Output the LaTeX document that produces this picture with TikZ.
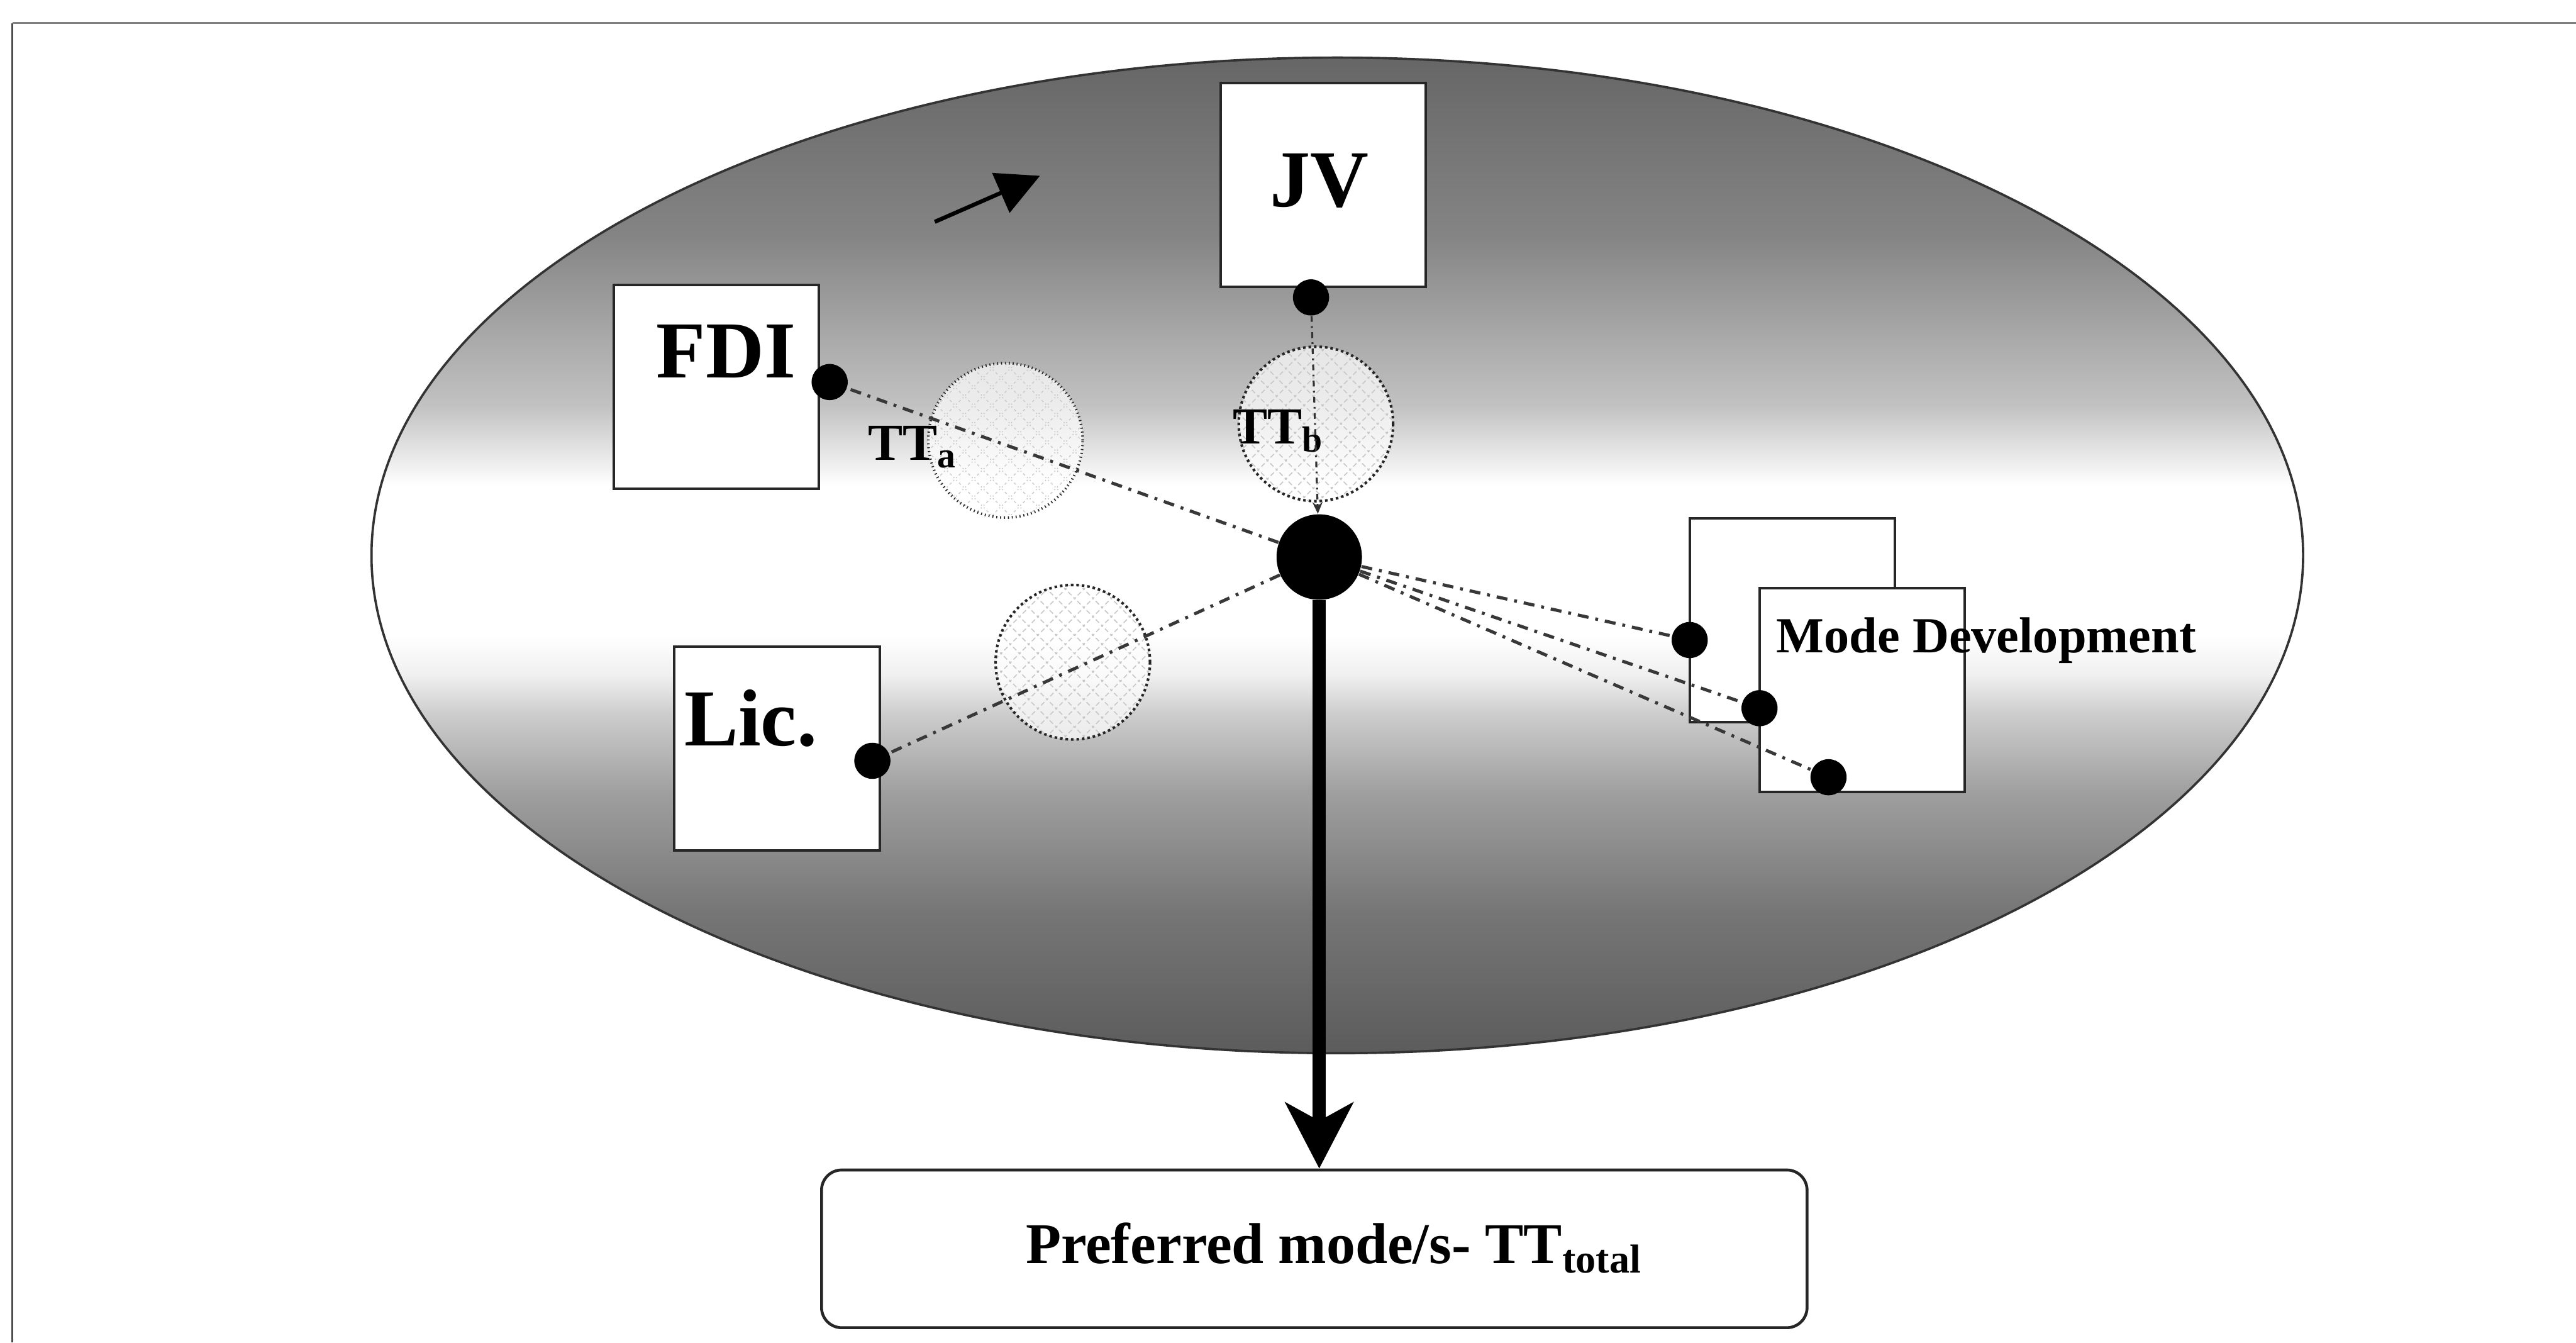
\documentclass[tikz,border=0pt]{standalone}
\usepackage{fontspec}
\setmainfont{Liberation Serif}
\usetikzlibrary{arrows.meta,patterns.meta}

% grey band shading of the oval (0bp = bottom)
\pgfdeclareverticalshading{ovalshade}{100bp}{%
  color(0bp)=(black!64); color(25bp)=(black!64); color(32bp)=(black!54);
  color(38bp)=(black!38); color(42bp)=(black!20); color(44bp)=(black!6);
  color(46bp)=(white); color(53.5bp)=(white); color(57.5bp)=(black!24);
  color(66bp)=(black!48); color(75bp)=(black!60); color(100bp)=(black!60)}

\begin{document}
\begin{tikzpicture}[x=.02cm,y=-.02cm,
  lbox/.style={draw=black!85,line width=.9pt,fill=white,inner sep=0,
    minimum width=2.5cm,minimum height=2.48cm},
  biglab/.style={font=\fontsize{28}{30}\selectfont\bfseries,inner sep=0,anchor=base},
  ttlab/.style={font=\fontsize{18}{20}\selectfont\bfseries,inner sep=0,anchor=base west},
  mdlab/.style={font=\fontsize{17.5}{20}\selectfont\bfseries,inner sep=0,anchor=base west},
  ttring/.style={circle,draw=black!85,densely dotted,line width=.9pt,inner sep=0,
    minimum size=1.88cm,preaction={fill=white,fill opacity=.7},
    pattern={Hatch[angle=45,distance=4.5pt,line width=.35pt]},pattern color=black!22},
  dot/.style={circle,fill=black,inner sep=0,minimum size=.44cm},
  hub/.style={circle,fill=black,inner sep=0,minimum size=1.04cm},
  link/.style={black!78,line width=1.1pt,dash pattern=on 3.8pt off 2.4pt on 1pt off 2.4pt},
  jvlink/.style={black!80,line width=.7pt,dash pattern=on 2pt off 1.5pt on .6pt off 1.5pt,
    -{Stealth[length=4pt,width=3.5pt]}},
  prefbox/.style={draw=black!85,line width=1pt,rounded corners=7pt,fill=white,
    minimum width=12cm,minimum height=1.92cm},
  preflab/.style={font=\fontsize{20}{22}\selectfont\bfseries,inner sep=0,anchor=base}]
  \useasboundingbox (0,0) rectangle (1568,817);

  % frame
  \draw[black!70,line width=.7pt] (7.5,817) -- (7.5,14);
  \draw[black!50,line width=.7pt] (7.5,14) -- (1568,14);

  % oval
  \shade[shading=ovalshade,draw=black!80,line width=.8pt]
    (814,338) ellipse [x radius=11.76cm,y radius=6.06cm];

  % small arrow
  \coordinate (arrfrom) at (569,135);
  \coordinate (arrto) at (633,107);
  \draw[line width=1.4pt,-{Triangle[length=.52cm,width=.52cm]}] (arrfrom) -- (arrto);

  % transfer rings
  \node[ttring] (ringa) at (612,268) {};
  \node[ttring] (ringb) at (801,258) {};
  \node[ttring] (ringl) at (653,403) {};

  % modes
  \node[lbox] (jv) at (805.5,112.5) {};
  \node[lbox] (fdi) at (436,235.5) {};
  \node[lbox] (lic) at (473,455.5) {};
  \node[lbox] (mdback) at (1091,377.5) {};
  \node[lbox] (mdfront) at (1133.5,420) {};

  \node[biglab] (jvlab) at (803,125.6) {JV};
  \node[biglab] (fdilab) at (442,230) {FDI};
  \node[biglab] (liclab) at (457,454) {Lic.};
  \node[mdlab] (mdlab) at (1081,397) {Mode Development};
  \node[ttlab] (ttalab) at (528,280) {TT\textsubscript{a}};
  \node[ttlab] (ttblab) at (750,270) {TT\textsubscript{b}};

  % ports
  \node[dot] (jvdot) at (798,181) {};
  \node[dot] (fdidot) at (505,232.5) {};
  \node[dot] (licdot) at (531,463) {};
  \node[dot] (mddota) at (1028.5,389.5) {};
  \node[dot] (mddotb) at (1071,431) {};
  \node[dot] (mddotc) at (1113,473) {};
  \node[hub] (hub) at (803,339) {};

  \foreach \d in {fdidot,licdot,mddota,mddotb,mddotc}
    \draw[link] (hub) -- (\d);
  \draw[jvlink] (jvdot) -- (hub);

  % result
  \node[prefbox] (pref) at (800,760) {};
  \node[preflab] (preflab) at (812,769) {Preferred mode/s- TT\textsubscript{total}};
  \draw[line width=4.5pt,-{Stealth[length=.8cm,width=.82cm,inset=.22cm]}]
    (hub.south) -- (hub.south |- pref.north);
\end{tikzpicture}
\end{document}
